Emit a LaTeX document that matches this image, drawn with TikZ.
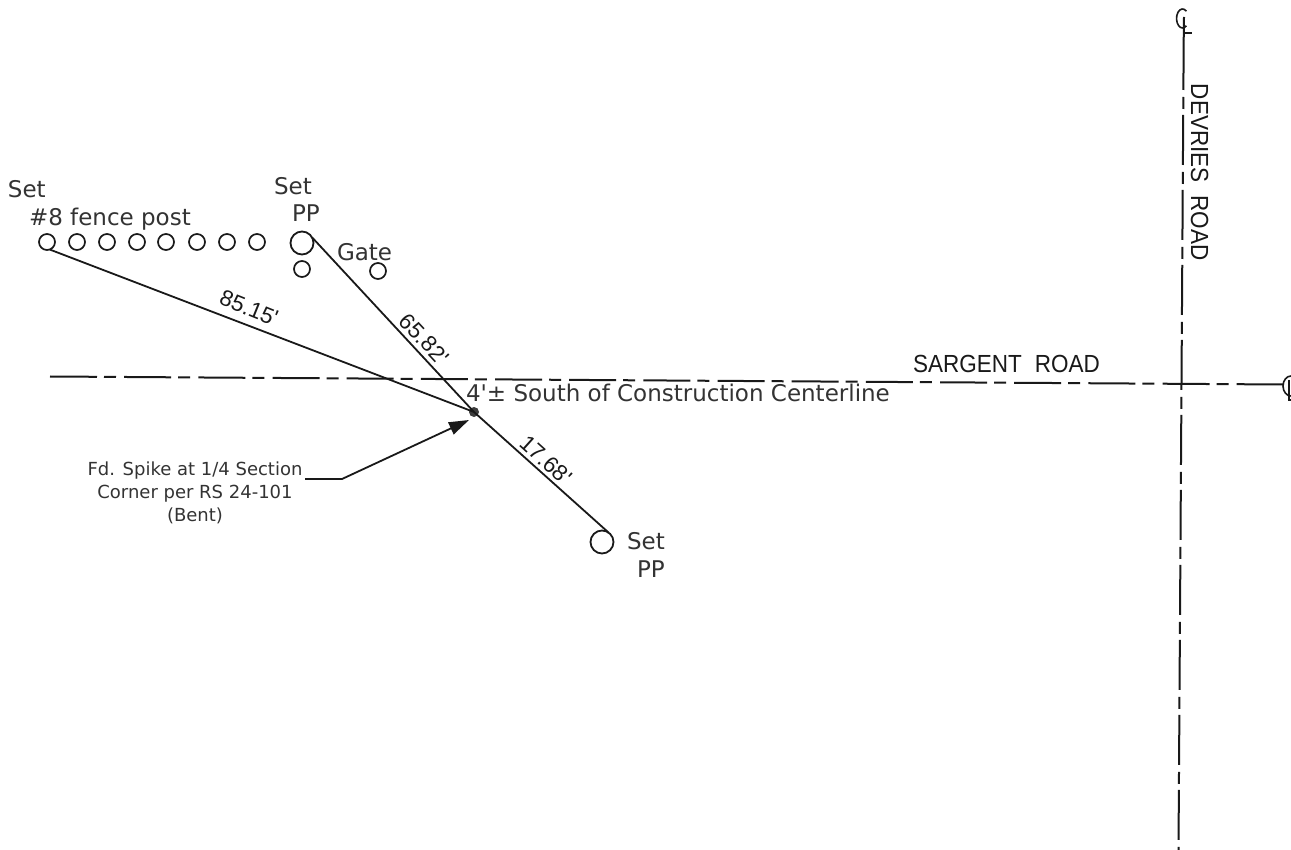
\documentclass[tikz,border=0pt]{standalone}
\usepackage{fontspec}
\setmainfont{DejaVu Sans}[Ligatures=TeXOff]
\newfontfamily\roadfont{Liberation Sans}[Ligatures=TeXOff]
\newfontfamily\dimfont{Liberation Sans}[Ligatures=TeXOff]
\usetikzlibrary{arrows.meta}
\definecolor{ink}{gray}{0.1}
\definecolor{labelink}{gray}{0.2}
\tikzset{
  x=1pt,y=-1pt,
  every node/.style={inner sep=0pt,outer sep=0pt},
  post/.style={circle,draw=ink,line width=1.7pt,minimum size=16pt},
  bigpost/.style={circle,draw=ink,line width=1.8pt,minimum size=23pt},
  spike/.style={circle,fill=ink!85!white,minimum size=10pt},
  tie/.style={draw=ink,line width=1.8pt},
  symbol/.style={draw=ink,line width=1.6pt},
  center line h/.style={draw=ink,line width=2pt,dash pattern=on 47pt off 7pt on 12pt off 8.17pt},
  center line v/.style={draw=ink,line width=2pt,dash pattern=on 50pt off 7pt on 12pt off 6pt},
  lbl/.style={text=labelink,font=\fontsize{23}{26}\selectfont,anchor=base west},
  small lbl/.style={text=labelink,font=\fontsize{18}{21}\selectfont,anchor=base},
  dim/.style={text=ink,font=\dimfont\fontsize{22.5}{26}\selectfont,anchor=center},
  road/.style={text=ink,font=\roadfont\fontsize{22.5}{26}\selectfont,anchor=base west},
}
\begin{document}
\begin{tikzpicture}
\useasboundingbox (0,0) rectangle (1291,850);
% fence posts
\node[post] (p1) at (47,242) {};
\node[post] (p2) at (77,242) {};
\node[post] (p3) at (107,242) {};
\node[post] (p4) at (137,242) {};
\node[post] (p5) at (166,242) {};
\node[post] (p6) at (197,242) {};
\node[post] (p7) at (227,242) {};
\node[post] (p8) at (257,242) {};
\node[bigpost] (pp1) at (302,243) {};
\node[post] (g1) at (302,269) {};
\node[post] (g2) at (378,271) {};
\node[bigpost] (pp2) at (602,542) {};
\node[spike] (s) at (474,412) {};
% ties
\draw[tie] (p1.-70) -- (s.center);
\draw[tie] (pp1.30) -- (s.center);
\draw[tie] (s.center) -- (pp2.55);
% centerlines
\coordinate (hs) at (50,376.5);
\coordinate (he) at (1283,384.5);
\coordinate (vt) at (1184,17);
\coordinate (vd) at (1183.7,40);
\coordinate (vb) at (1178.5,850);
\draw[center line h] (hs) -- (he);
\draw[draw=ink,line width=2pt] (vt) -- (vd);
\draw[center line v] (vd) -- (vb);
% centerline symbols
\draw[symbol] (1186.4,11.2) arc (-50:-310:6 and 9.5);
\draw[symbol] (1183.7,33) -- (1192,33);
\draw[symbol] (1291,376) arc (-90:-270:8 and 10);
\draw[symbol] (1289,380) -- (1289,400) -- (1291,400);
% leader
\coordinate (l0) at (305,479);
\coordinate (l1) at (342,479);
\coordinate (l2) at (469,420);
\draw[draw=ink,line width=1.8pt,-{Triangle[length=20pt,width=13pt]}] (l0) -- (l1) -- (l2);
% labels
\node[lbl] (t1) at (8,198) {Set};
\node[lbl] (t2) at (29,226) {\#8 fence post};
\node[lbl] (t3) at (274,195) {Set};
\node[lbl] (t4) at (292,222) {PP};
\node[lbl] (t5) at (337,261) {Gate};
\node[lbl] (t6) at (627,549) {Set};
\node[lbl] (t7) at (637,577) {PP};
\node[lbl] (t8) at (466,402) {4'± South of Construction Centerline};
\node[small lbl] (f1) at (195,475) {Fd. Spike at 1/4 Section};
\node[small lbl] (f2) at (195,498) {Corner per RS 24-101};
\node[small lbl] (f3) at (195,521) {(Bent)};
\node[dim,rotate=-22] (d1) at (249,308) {85.15'};
\node[dim,rotate=-47] (d2) at (424,339) {65.82'};
\node[dim,rotate=-42] (d3) at (546,460) {17.68'};
\node[road] (r1) at (913,373) {\scalebox{1}[1.1]{SARGENT\hspace{13pt}ROAD}};
\node[road,rotate=-90] (r2) at (1191,84) {\scalebox{1}[1.1]{DEVRIES\hspace{13pt}ROAD}};
\end{tikzpicture}
\end{document}
